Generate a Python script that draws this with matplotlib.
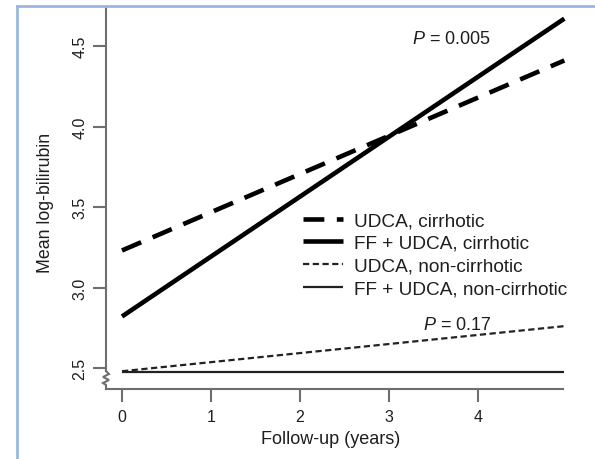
import matplotlib
matplotlib.use("Agg")
import matplotlib.pyplot as plt
from matplotlib.lines import Line2D

plt.rcParams['font.family'] = ['Liberation Sans', 'DejaVu Sans']
plt.rcParams['mathtext.fontset'] = 'custom'
plt.rcParams['mathtext.it'] = 'Liberation Sans:italic'
plt.rcParams['mathtext.rm'] = 'Liberation Sans'
plt.rcParams['lines.scale_dashes'] = False

# ---- data ----
years = [0, 4.97]
udca_cirrhotic = [3.23, 4.41]
ff_udca_cirrhotic = [2.82, 4.67]
udca_noncirrhotic = [2.48, 2.76]
ff_udca_noncirrhotic = [2.475, 2.475]
labels = ["UDCA, cirrhotic", "FF + UDCA, cirrhotic",
          "UDCA, non-cirrhotic", "FF + UDCA, non-cirrhotic"]
xticks = [0, 1, 2, 3, 4]
yticks = [2.5, 3.0, 3.5, 4.0, 4.5]
p_texts = ["$P$ = 0.005", "$P$ = 0.17"]

W, H = 595, 460
fig = plt.figure(figsize=(W / 100, H / 100), dpi=100)
fig.patch.set_facecolor("white")

ax_l, ax_r, ax_t, ax_b = 106, 570, 8, 390
ax = fig.add_axes([ax_l / W, 1 - ax_b / H, (ax_r - ax_l) / W, (ax_b - ax_t) / H])

txt = "#1e1e1e"
spine_c = "#6e6e6e"

ax.plot(years, udca_cirrhotic, color="black", lw=3.3, dashes=(15, 9),
        solid_capstyle="butt", dash_capstyle="butt", label=labels[0])
ax.plot(years, ff_udca_cirrhotic, color="black", lw=3.3,
        solid_capstyle="butt", label=labels[1])
ax.plot(years, udca_noncirrhotic, color="#222222", lw=1.6, dashes=(4.5, 2.5),
        dash_capstyle="butt", label=labels[2])
ax.plot(years, ff_udca_noncirrhotic, color="#222222", lw=1.6,
        solid_capstyle="butt", label=labels[3])

x0 = -(122 - ax_l) / 89.0
ax.set_xlim(x0, x0 + (ax_r - ax_l) / 89.0)
y0 = 2.5 - (ax_b - 369) / 161.0
ax.set_ylim(y0, y0 + (ax_b - ax_t) / 161.0)

ax.set_xticks(xticks)
ax.set_xticklabels([str(v) for v in xticks])
ax.set_yticks(yticks)
ax.set_yticklabels([f"{v:.1f}" for v in yticks], rotation=90, va="center")

for s in ["top", "right"]:
    ax.spines[s].set_visible(False)
for s in ["left", "bottom"]:
    ax.spines[s].set_color(spine_c)
    ax.spines[s].set_linewidth(1.5)
ax.spines["bottom"].set_bounds(x0, 4.95)
ybreak = 2.5 - 3 / 161.0
ax.spines["left"].set_bounds(ybreak, ax.get_ylim()[1])

ax.tick_params(axis="both", colors=spine_c, width=1.5, length=9.5,
               labelcolor=txt, labelsize=11.5)
ax.tick_params(axis="y", pad=4)
ax.tick_params(axis="x", pad=5)

# axis break zigzag on the y axis
aw, ah = ax_r - ax_l, ax_b - ax_t
zz = [(0, 18), (3, 15), (-3, 12), (3, 9), (-3, 6), (0, 4), (0, 0)]
ax.add_line(Line2D([p[0] / aw for p in zz], [p[1] / ah for p in zz],
                   transform=ax.transAxes, color=spine_c, lw=1.5,
                   clip_on=False, solid_joinstyle="miter"))

leg = ax.legend(loc="upper left", bbox_to_anchor=(303 / W, 1 - 213 / H),
                bbox_transform=fig.transFigure, frameon=False,
                fontsize=13.7, handlelength=2.1, handletextpad=0.6,
                labelspacing=0.28, borderpad=0, borderaxespad=0)
for t in leg.get_texts():
    t.set_color(txt)

ax.text(451 / W, 1 - 39 / H, p_texts[0], transform=fig.transFigure,
        ha="center", va="center", fontsize=13, color=txt)
ax.text(457 / W, 1 - 325 / H, p_texts[1], transform=fig.transFigure,
        ha="center", va="center", fontsize=13, color=txt)

fig.text(331 / W, 1 - 440 / H, "Follow-up (years)", ha="center", va="center",
         fontsize=13, color=txt)
fig.text(45 / W, 1 - 203 / H, "Mean log-bilirubin", ha="center", va="center",
         rotation=90, fontsize=12.8, color=txt)

# light blue frame (top and left edges visible)
border = "#9bb8dc"
fig.add_artist(Line2D([17 / W, 1.0], [1 - 7 / H, 1 - 7 / H],
                      transform=fig.transFigure, color=border, lw=2))
fig.add_artist(Line2D([17 / W, 17 / W], [0, 1 - 7 / H],
                      transform=fig.transFigure, color=border, lw=2))

fig.savefig("out.png", dpi=100)
